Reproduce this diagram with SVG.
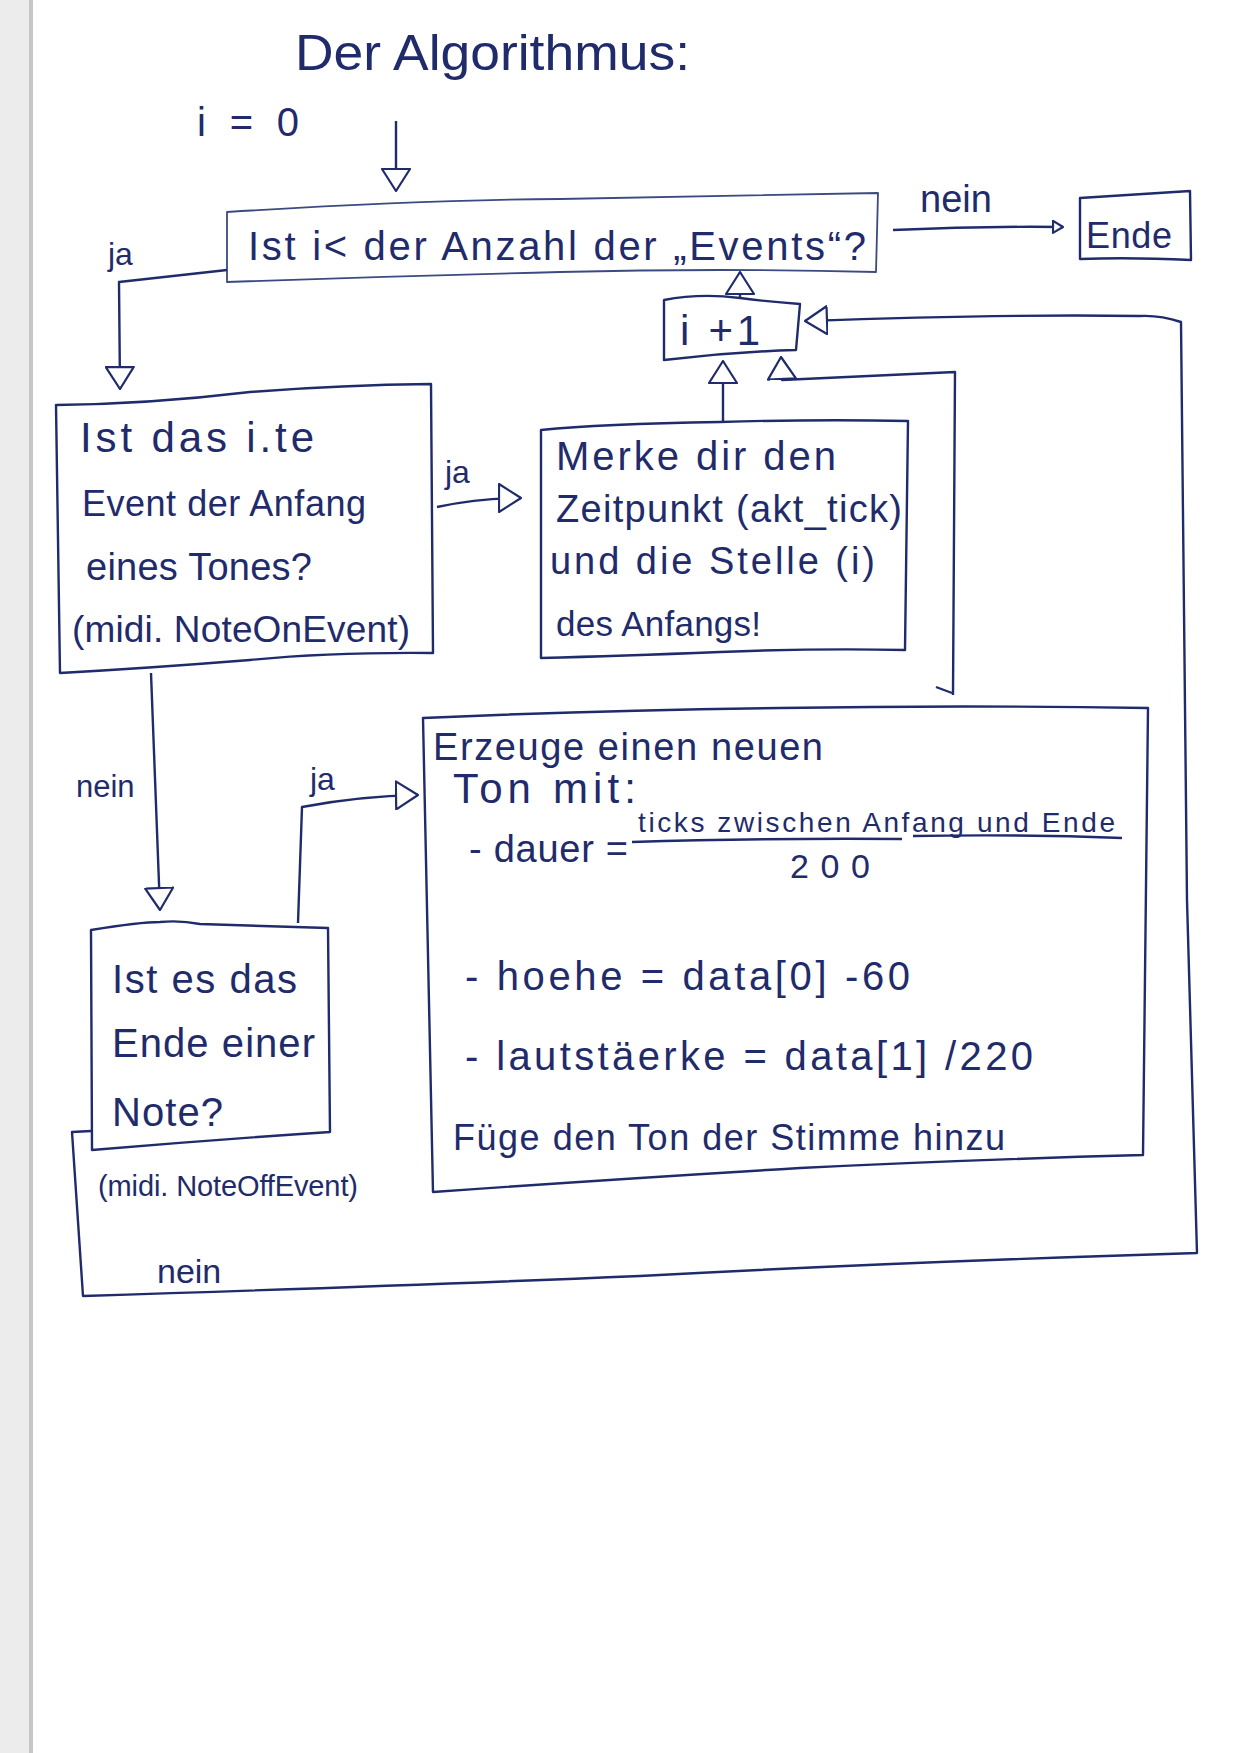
<svg xmlns="http://www.w3.org/2000/svg" width="1240" height="1753" viewBox="0 0 1240 1753">
<defs>
<style>
.box{fill:none;stroke:#1f2b6b;stroke-width:2.4;stroke-linejoin:round}
.lite{fill:none;stroke:#3c4a82;stroke-width:1.8;stroke-linejoin:round}
.con{fill:none;stroke:#1f2b6b;stroke-width:2.4;stroke-linejoin:round}
text{font-family:"Liberation Sans","DejaVu Sans",sans-serif;fill:#1f2b6b}
.t40{font-size:40px}
.t38{font-size:38px}
.t34{font-size:34px}
.t30{font-size:30px}
</style>
<marker id="open" viewBox="0 0 24 30" refX="23" refY="15" markerWidth="24" markerHeight="30" markerUnits="userSpaceOnUse" orient="auto">
<path d="M1,1 L23,15 L1,29 Z" fill="#ffffff" stroke="#1f2b6b" stroke-width="2.2" stroke-linejoin="round"/>
</marker>
<marker id="small" viewBox="0 0 12 14" refX="11" refY="7" markerWidth="12" markerHeight="14" markerUnits="userSpaceOnUse" orient="auto">
<path d="M1,1 L11,7 L1,13 Z" fill="#ffffff" stroke="#1f2b6b" stroke-width="2.2" stroke-linejoin="round"/>
</marker>
</defs>
<rect x="0" y="0" width="1240" height="1753" fill="#ffffff"/>
<rect x="0" y="0" width="33" height="1753" fill="#ececec"/>
<line x1="31" y1="0" x2="31" y2="1753" stroke="#c6c6c6" stroke-width="4"/>

<g id="title">
<text x="295" y="70" font-size="50" textLength="395" lengthAdjust="spacingAndGlyphs">Der Algorithmus:</text>
</g>
<g id="init">
<text x="197" y="136" class="t40" textLength="102" lengthAdjust="spacing">i = 0</text>
</g>

<g id="node-check-count">
<path class="lite" d="M227,212 Q420,200 560,199 Q720,196 878,193 L876,272 Q720,268 560,272 Q400,276 227,282 Z"/>
<text x="248" y="260" class="t40" textLength="618" lengthAdjust="spacing">Ist i&lt; der Anzahl der „Events“?</text>
</g>

<g id="node-ende">
<path class="box" d="M1080,198 Q1130,195 1190,191 L1191,260 Q1130,257 1080,259 Z"/>
<text x="1086" y="248" font-size="36" textLength="86" lengthAdjust="spacing">Ende</text>
</g>

<g id="node-increment">
<path class="box" d="M664,300 Q700,293 740,298 Q770,302 800,304 L796,350 Q730,352 664,360 Z"/>
<text x="680" y="345" font-size="42" textLength="80" lengthAdjust="spacing">i +1</text>
</g>

<g id="node-note-on">
<path class="box" d="M56,405 Q150,404 250,392 Q340,385 431,384 L433,653 Q330,652 250,660 Q150,668 60,673 Z"/>
<text x="80" y="452" font-size="42" textLength="234" lengthAdjust="spacing">Ist das i.te</text>
<text x="82" y="516" font-size="36" textLength="284" lengthAdjust="spacing">Event der Anfang</text>
<text x="86" y="580" class="t38" textLength="226" lengthAdjust="spacing">eines Tones?</text>
<text x="72" y="642" font-size="37" textLength="338" lengthAdjust="spacing">(midi. NoteOnEvent)</text>
</g>

<g id="node-remember">
<path class="box" d="M541,430 Q600,424 720,422 Q820,419 908,421 L905,650 Q820,648 720,652 Q620,656 541,658 Z"/>
<text x="556" y="470" font-size="40" textLength="280" lengthAdjust="spacing">Merke dir den</text>
<text x="556" y="522" class="t38" textLength="346" lengthAdjust="spacing">Zeitpunkt (akt_tick)</text>
<text x="550" y="574" class="t38" textLength="325" lengthAdjust="spacing">und die Stelle (i)</text>
<text x="556" y="636" font-size="35" textLength="205" lengthAdjust="spacing">des Anfangs!</text>
</g>

<g id="node-note-off">
<path class="box" d="M91,930 Q140,922 160,922 Q180,920 200,924 Q270,926 328,928 L330,1132 Q210,1140 92,1150 Z"/>
<text x="112" y="993" class="t40" textLength="185" lengthAdjust="spacing">Ist es das</text>
<text x="112" y="1057" class="t40" textLength="203" lengthAdjust="spacing">Ende einer</text>
<text x="112" y="1126" class="t40" textLength="111" lengthAdjust="spacing">Note?</text>
<text x="98" y="1196" font-size="29" textLength="260" lengthAdjust="spacing">(midi. NoteOffEvent)</text>
</g>

<g id="node-create">
<path class="box" d="M423,718 Q600,710 780,708 Q960,705 1148,708 L1143,1155 Q960,1160 800,1168 Q600,1180 433,1192 Z"/>
<text x="433" y="760" class="t38" textLength="390" lengthAdjust="spacing">Erzeuge einen neuen</text>
<text x="453" y="803" font-size="42" textLength="183" lengthAdjust="spacing">Ton mit:</text>
<text x="469" y="862" class="t38" textLength="159" lengthAdjust="spacing">- dauer =</text>
<text x="638" y="832" font-size="28" textLength="477" lengthAdjust="spacing">ticks zwischen Anfang und Ende</text>
<path class="con" d="M632,842 Q760,838 902,839 M913,836 Q1020,834 1122,838" stroke-width="2"/>
<text x="790" y="878" font-size="34" textLength="80" lengthAdjust="spacing">200</text>
<text x="465" y="990" class="t40" textLength="445" lengthAdjust="spacing">- hoehe = data[0] -60</text>
<text x="465" y="1070" class="t40" textLength="568" lengthAdjust="spacing">- lautstäerke = data[1] /220</text>
<text x="453" y="1150" font-size="36" textLength="552" lengthAdjust="spacing">Füge den Ton der Stimme hinzu</text>
</g>

<g id="connectors">
<path class="con" d="M396,121 L396,191" marker-end="url(#open)"/>
<path class="con" d="M227,270 L119,282 L120,389" marker-end="url(#open)"/>
<path class="con" d="M893,230 Q980,226 1063,227" marker-end="url(#small)"/>
<path class="con" d="M740,298 L740,272" marker-end="url(#open)"/>
<path class="con" d="M437,507 Q480,498 521,498" marker-end="url(#open)"/>
<path class="con" d="M723,423 L723,361" marker-end="url(#open)"/>
<path class="con" d="M953,695 L955,372 L782,380 L781,357" marker-end="url(#open)"/>
<path class="con" d="M936,687 L952,693" stroke-width="1.6"/>
<path class="con" d="M151,673 L160,910" marker-end="url(#open)"/>
<path class="con" d="M298,923 L302,807 Q360,796 418,795" marker-end="url(#open)"/>
<path class="con" d="M91,1131 L72,1132 L83,1296 Q400,1286 640,1276 Q900,1262 1197,1253 L1187,900 L1181,322 Q1160,315 1140,316 Q1000,314 805,321" marker-end="url(#open)"/>
<text x="920" y="212" font-size="38">nein</text>
<text x="108" y="265" font-size="32">ja</text>
<text x="445" y="483" font-size="32">ja</text>
<text x="76" y="797" font-size="31">nein</text>
<text x="310" y="790" font-size="32">ja</text>
<text x="157" y="1283" font-size="34">nein</text>
</g>
</svg>
